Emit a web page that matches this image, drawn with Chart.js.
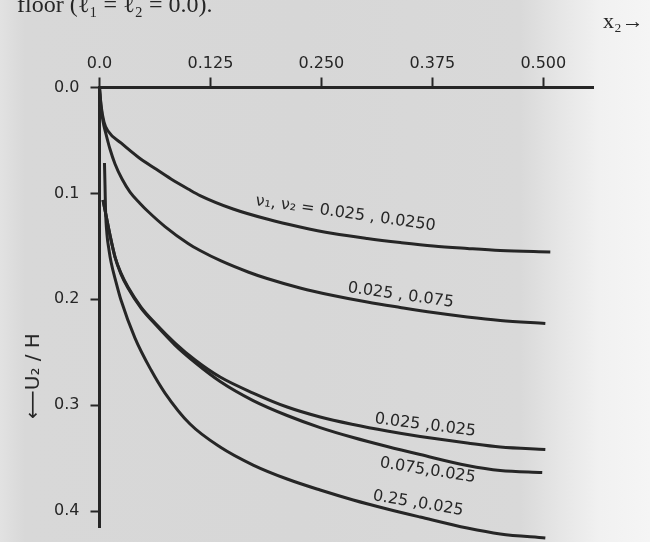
<!DOCTYPE html>
<html><head><meta charset="utf-8">
<script src="https://cdn.jsdelivr.net/npm/chart.js@4.4.1/dist/chart.umd.min.js"></script>
<style>
html,body{margin:0;padding:0;width:650px;height:542px;overflow:hidden;}
body{background:linear-gradient(to right,#e2e2e2 0px,#d8d8d8 25px,#d7d7d7 300px,#d9d9d9 520px,#e6e6e6 560px,#f1f1f1 600px,#f5f5f5 650px);}
canvas{display:block;}
</style></head><body>
<canvas id="c" width="650" height="542"></canvas>
<script>
// ---- tick values / labels ----
const xTickValues = [0, 0.125, 0.25, 0.375, 0.5];
const xTickLabels = ["0.0", "0.125", "0.250", "0.375", "0.500"];
const yTickValues = [0, 0.1, 0.2, 0.3, 0.4];
const yTickLabels = ["0.0", "0.1", "0.2", "0.3", "0.4"];

// ---- series (x2 , U2/H) ----
const seriesNames = ["0.025 , 0.0250", "0.025 , 0.075", "0.025 , 0.025", "0.075 , 0.025", "0.25 , 0.025"];

const xA = [0, 0.0017, 0.0051, 0.0096, 0.0242, 0.0434, 0.0626, 0.0806, 0.0998, 0.1133, 0.1505, 0.1888, 0.226, 0.2632, 0.3016, 0.3388, 0.376, 0.4143, 0.4515, 0.5079];
const yA = [0, 0.0165, 0.0326, 0.0411, 0.0524, 0.0656, 0.0765, 0.0864, 0.0958, 0.1020, 0.1147, 0.1242, 0.1317, 0.1379, 0.1426, 0.1464, 0.1497, 0.1520, 0.1539, 0.1553];

const xB = [0, 0.0017, 0.0039, 0.0073, 0.0118, 0.0175, 0.0254, 0.0344, 0.0457, 0.0547, 0.0738, 0.0998, 0.1133, 0.137, 0.1674, 0.1888, 0.226, 0.2632, 0.3016, 0.3388, 0.376, 0.4143, 0.4515, 0.5023];
const yB = [0, 0.0175, 0.0317, 0.0439, 0.0581, 0.0722, 0.0864, 0.0987, 0.1095, 0.1171, 0.1313, 0.1473, 0.1539, 0.1638, 0.1742, 0.1804, 0.1893, 0.1964, 0.2026, 0.2077, 0.2125, 0.2167, 0.2200, 0.2229];

const xC = [0.0039, 0.0073, 0.0118, 0.0175, 0.0242, 0.0321, 0.0468, 0.0626, 0.0851, 0.1077, 0.1359, 0.1731, 0.2114, 0.2486, 0.2858, 0.3241, 0.3613, 0.4143, 0.4515, 0.5023];
const yC = [0.1062, 0.1204, 0.1393, 0.1601, 0.1752, 0.1884, 0.2073, 0.2224, 0.2413, 0.2573, 0.2734, 0.2885, 0.3017, 0.3111, 0.3182, 0.3244, 0.3296, 0.3357, 0.3395, 0.3418];

const xD = [0.0039, 0.0073, 0.0118, 0.0175, 0.0242, 0.0321, 0.0468, 0.0626, 0.0851, 0.1077, 0.1359, 0.1731, 0.2114, 0.2486, 0.2858, 0.3241, 0.3613, 0.4143, 0.4515, 0.4988];
const yD = [0.1062, 0.1204, 0.1393, 0.1601, 0.1762, 0.1894, 0.2083, 0.2234, 0.2432, 0.2597, 0.2776, 0.2956, 0.3097, 0.3211, 0.3305, 0.3390, 0.3466, 0.3569, 0.3617, 0.3636];

const xE = [0.0056, 0.0062, 0.0068, 0.0085, 0.0107, 0.013, 0.0186, 0.0242, 0.0400, 0.0581, 0.0738, 0.102, 0.1359, 0.1731, 0.2114, 0.2486, 0.2858, 0.3241, 0.3613, 0.4143, 0.4515, 0.5023];
const yE = [0.0713, 0.0921, 0.1157, 0.1393, 0.1534, 0.1648, 0.1837, 0.2007, 0.2366, 0.2668, 0.2885, 0.3178, 0.3395, 0.3565, 0.3697, 0.3801, 0.3895, 0.3980, 0.4056, 0.4160, 0.4216, 0.4254];

// ---- curve annotations (text, anchor x2, anchor U2/H, angle in degrees) ----
const curveLabelTexts = ["ν\u2081, ν\u2082 = 0.025 , 0.0250", "0.025 , 0.075", "0.025 ,0.025", "0.075,0.025", "0.25 ,0.025"];
const curveLabelX = [0.1753, 0.279, 0.3095, 0.3151, 0.3072];
const curveLabelY = [0.1110, 0.1931, 0.3168, 0.3584, 0.3895];
const curveLabelAngle = [8, 8, 7.2, 9, 9.5];

const INK = '#262626';
const zip = (xs, ys) => xs.map((x, i) => ({x: x, y: ys[i]}));
const seriesX = [xA, xB, xC, xD, xE];
const seriesY = [yA, yB, yC, yD, yE];

const datasets = seriesNames.map((name, i) => ({
  label: name,
  data: zip(seriesX[i], seriesY[i]),
  borderColor: INK,
  borderWidth: 3,
  pointRadius: 0,
  fill: false,
  cubicInterpolationMode: 'monotone',
  clip: false
}));

const annotate = {
  id: 'annotate',
  afterDraw(chart) {
    const ctx = chart.ctx;
    const xs = chart.scales.x, ys = chart.scales.y;
    ctx.save();
    ctx.fillStyle = INK;
    // cropped caption line at the very top
    ctx.font = '24px "Liberation Serif", serif';
    ctx.textAlign = 'left';
    ctx.textBaseline = 'alphabetic';
    ctx.fillText('floor (\u2113\u2081 = \u2113\u2082 = 0.0).', 17, 12);
    // x2 arrow label
    ctx.font = '22px "Liberation Serif", serif';
    ctx.fillText('x\u2082\u2192', 603, 28);
    // y axis title, rotated
    ctx.save();
    ctx.translate(34, 376);
    ctx.rotate(-Math.PI / 2);
    ctx.font = '20px "DejaVu Sans", sans-serif';
    ctx.textAlign = 'center';
    ctx.textBaseline = 'middle';
    ctx.fillText('\u27F5U\u2082 / H', 0, 0);
    ctx.restore();
    // curve labels
    ctx.font = '16px "DejaVu Sans", sans-serif';
    ctx.textAlign = 'left';
    ctx.textBaseline = 'alphabetic';
    curveLabelTexts.forEach((t, i) => {
      ctx.save();
      ctx.translate(xs.getPixelForValue(curveLabelX[i]), ys.getPixelForValue(curveLabelY[i]));
      ctx.rotate(curveLabelAngle[i] * Math.PI / 180);
      ctx.fillText(t, 0, 0);
      ctx.restore();
    });
    ctx.restore();
  }
};

new Chart(document.getElementById('c'), {
  type: 'line',
  data: { datasets: datasets },
  options: {
    responsive: false,
    animation: false,
    events: [],
    layout: { padding: { left: 0, right: 57, top: 0, bottom: 15 } },
    plugins: { legend: { display: false }, tooltip: { enabled: false }, title: { display: false } },
    scales: {
      x: {
        type: 'linear',
        position: 'top',
        min: 0,
        max: 0.556,
        afterFit(s) { s.height = 87.5; s.paddingLeft = 0; s.paddingRight = 0; },
        afterBuildTicks(s) { s.ticks = xTickValues.map(v => ({value: v})); },
        ticks: {
          autoSkip: false,
          maxRotation: 0,
          padding: 4,
          color: INK,
          font: { family: 'DejaVu Sans', size: 16 },
          callback: (v, i) => xTickLabels[i]
        },
        grid: { drawOnChartArea: false, drawTicks: true, tickLength: 10, tickWidth: 2, color: INK },
        border: { display: true, color: INK, width: 3 }
      },
      y: {
        type: 'linear',
        position: 'left',
        reverse: true,
        min: 0,
        max: 0.415,
        afterFit(s) { s.width = 99.5; s.paddingTop = 0; s.paddingBottom = 0; },
        afterBuildTicks(s) { s.ticks = yTickValues.map(v => ({value: v})); },
        ticks: {
          autoSkip: false,
          padding: 11,
          color: INK,
          font: { family: 'DejaVu Sans', size: 16 },
          callback: (v, i) => yTickLabels[i]
        },
        grid: { drawOnChartArea: false, drawTicks: true, tickLength: 9, tickWidth: 2, color: INK },
        border: { display: true, color: INK, width: 3 }
      }
    }
  },
  plugins: [annotate]
});
</script>
</body></html>
